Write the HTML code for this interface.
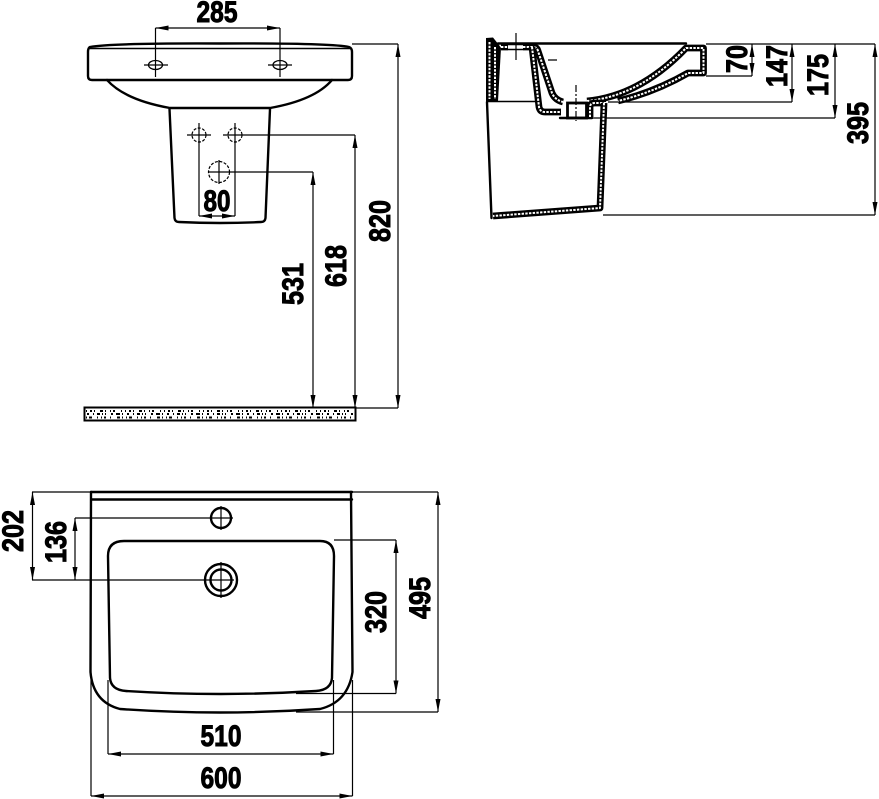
<!DOCTYPE html>
<html><head><meta charset="utf-8"><style>
html,body{margin:0;padding:0;background:#fff}
svg{display:block}
text{font-family:"Liberation Sans Narrow","Liberation Sans",sans-serif;font-weight:700;font-size:30px;fill:#000;stroke:#000;stroke-width:1px;text-anchor:middle}
.d{fill:none;stroke:#000;stroke-width:1.2}
.a{fill:none;stroke:#000;stroke-width:1.2;marker-start:url(#m);marker-end:url(#m)}
.o{fill:none;stroke:#000;stroke-width:2.4;stroke-linejoin:round;stroke-linecap:round}
.t{fill:none;stroke:#000;stroke-width:1.3}
.h{fill:none;stroke:#000;stroke-width:6.8;stroke-linejoin:round}
.w{fill:none;stroke:#fff;stroke-width:2;stroke-dasharray:2.4 1.3;stroke-linejoin:round}
.c{fill:none;stroke:#000;stroke-width:1.2;stroke-dasharray:3 1.5}
</style></head><body>
<svg width="879" height="799" viewBox="0 0 879 799" xmlns="http://www.w3.org/2000/svg">
<defs><marker id="m" markerUnits="userSpaceOnUse" markerWidth="14" markerHeight="8" refX="0" refY="3" orient="auto-start-reverse" overflow="visible"><path d="M0 3L-13 0.500L-13 5.500Z" fill="#000"/></marker></defs>

<!-- Front view -->
<path class="o" d="M90 47Q112 43 220 43.500Q330 43 349 47Q352 48 352 52L352 76Q352 80 348 80L92 80Q88 80 88 76L88 52Q88 48 90 47Z"/>
<path class="o" style="stroke-width:1.6" d="M90 48.500L350 48.500"/>
<path class="o" d="M107 80Q125 100 170 108L270 108Q315 100 332 80"/>
<path class="o" d="M169.500 109L174.500 218Q175 222 179 222Q220 224 261 222Q265 222 265.500 218L270 109"/>
<path class="a" d="M155.500 28L280 28"/>
<path class="d" d="M155.500 28V77M280 28V77M144 65H168M268 65H292"/>
<ellipse class="t" cx="155.500" cy="65" rx="7" ry="4.500"/><ellipse class="t" cx="280" cy="65" rx="7" ry="4.500"/>
<circle class="c" cx="199" cy="135" r="7"/><circle class="c" cx="235" cy="135" r="7"/><circle class="c" cx="219" cy="172" r="10.500"/>
<path class="d" d="M187 135H211M223 135H355M199 123V216M235 123V216M208 172H313M219 160V184"/>
<path class="a" d="M199 216L235 216"/>
<path class="d" d="M352 44H398M356 408H398"/>
<path class="a" d="M355 135V408"/><path class="a" d="M313 172V408"/><path class="a" d="M398 44V408"/>
<text x="217" y="22" textLength="41" lengthAdjust="spacingAndGlyphs">285</text>
<text x="217" y="211" textLength="27" lengthAdjust="spacingAndGlyphs">80</text>
<text transform="translate(390 221) rotate(-90)" textLength="42" lengthAdjust="spacingAndGlyphs">820</text>
<text transform="translate(346 266) rotate(-90)" textLength="42" lengthAdjust="spacingAndGlyphs">618</text>
<text transform="translate(303 284) rotate(-90)" textLength="42" lengthAdjust="spacingAndGlyphs">531</text>

<!-- Floor -->
<rect x="84.500" y="407.500" width="271" height="13" fill="#fff" stroke="#000" stroke-width="2"/>
<path d="M86 411H355" stroke="#000" stroke-width="2" stroke-dasharray="1 3 2 2 1 5 3 2 1 4 1 2 2 6 1 3" fill="none"/>
<path d="M87 414H355" stroke="#000" stroke-width="2" stroke-dasharray="2 4 1 3 3 2 1 2 1 5 2 3 4 2 1 4" fill="none"/>
<path d="M86 417.500H355" stroke="#000" stroke-width="2" stroke-dasharray="1 2 3 5 1 3 1 2 2 4 1 6 3 2 1 3" fill="none"/>

<!-- Section view -->
<path class="d" d="M706 44H875M706 76H752M608 102H792M590 118H835M603 215H875"/>
<path class="o" style="stroke-width:1.6" d="M487 101.500H538"/>
<path d="M486 38L493 37.500L499 45L501 48L498 101L486 101Z" fill="#000"/>
<path class="w" d="M489.500 42V99"/><path class="w" d="M495 47V99"/>
<path class="o" d="M498 43.500H686"/>
<path class="h" d="M501 47H508M523 47H533Q537 47 538 51L552 93Q555 100 563 102"/>
<path class="w" d="M501 47H508M523 47H533Q537 47 538 51L552 93Q555 100 563 102"/>
<path class="h" d="M532 47L539 107Q540 112 545 112H561"/>
<path class="w" d="M532 47L539 107Q540 112 545 112H561"/>
<path class="d" style="stroke-width:1.500" d="M508 44.500H523M508 49.500H523"/>
<path class="h" d="M587 101Q640 96 686 48H703.500V73H688Q655 92 618 101"/>
<path class="w" d="M587 101Q640 96 686 48H703.500V73H688Q655 92 618 101"/>
<rect x="567.500" y="103" width="19" height="15" fill="#fff" stroke="#000" stroke-width="2.800"/>
<path class="o" d="M560 118H592"/>
<path class="h" d="M590 117V107Q590 103 595 103H606"/>
<path class="w" d="M590 117V107Q590 103 595 103H606"/>
<path class="h" d="M604 103L600 208L493 216"/>
<path class="w" d="M604 103L600 208L493 216"/>
<path class="o" d="M487 102L491.500 218"/>
<path class="d" d="M516 33V60M548 60H557"/><path class="d" stroke-dasharray="7 2 2 2" d="M576 85V121"/>
<path class="a" d="M752 44V76"/><path class="a" d="M792 44V102"/><path class="a" d="M835 44V118"/><path class="a" d="M875 44V215"/>
<text transform="translate(747 59) rotate(-90)" textLength="28" lengthAdjust="spacingAndGlyphs">70</text>
<text transform="translate(787 66) rotate(-90)" textLength="42" lengthAdjust="spacingAndGlyphs">147</text>
<text transform="translate(828 75) rotate(-90)" textLength="42" lengthAdjust="spacingAndGlyphs">175</text>
<text transform="translate(868 123) rotate(-90)" textLength="42" lengthAdjust="spacingAndGlyphs">395</text>

<!-- Plan view -->
<path class="o" d="M91 492H352M92 499.500H352"/>
<path class="o" d="M91 492L90.500 672Q93 702 120 709Q220 716 320 709Q348 702 352.500 672L351 492"/>
<path class="o" d="M108 556Q108 541 124 541H320Q334 541 334 556L332 678Q331 690 316 691Q220 697 126 691Q111 690 110 678Z"/>
<circle class="o" cx="221" cy="518" r="10"/>
<circle class="o" cx="221" cy="580" r="16"/><circle class="o" cx="221" cy="580" r="10.500"/>
<path class="d" d="M32 492H91M32 580H234M75 518H233M221 506V530M221 562V598M334 540H396M296 693.500H396M352 492H438M296 712H438M108 680V754M333.500 680V754M91 680V796M352.500 680V796"/>
<path class="a" d="M32.500 492V580"/><path class="a" d="M75 518V580"/><path class="a" d="M396 540V693.500"/><path class="a" d="M438 492V712"/>
<path class="a" d="M108 754H333.500"/><path class="a" d="M91 796H352.500"/>
<text transform="translate(23 531) rotate(-90)" textLength="42" lengthAdjust="spacingAndGlyphs">202</text>
<text transform="translate(66 542) rotate(-90)" textLength="42" lengthAdjust="spacingAndGlyphs">136</text>
<text transform="translate(386 612) rotate(-90)" textLength="42" lengthAdjust="spacingAndGlyphs">320</text>
<text transform="translate(430 598) rotate(-90)" textLength="42" lengthAdjust="spacingAndGlyphs">495</text>
<text x="221" y="746" textLength="41" lengthAdjust="spacingAndGlyphs">510</text>
<text x="221" y="788" textLength="41" lengthAdjust="spacingAndGlyphs">600</text>
</svg>
</body></html>
